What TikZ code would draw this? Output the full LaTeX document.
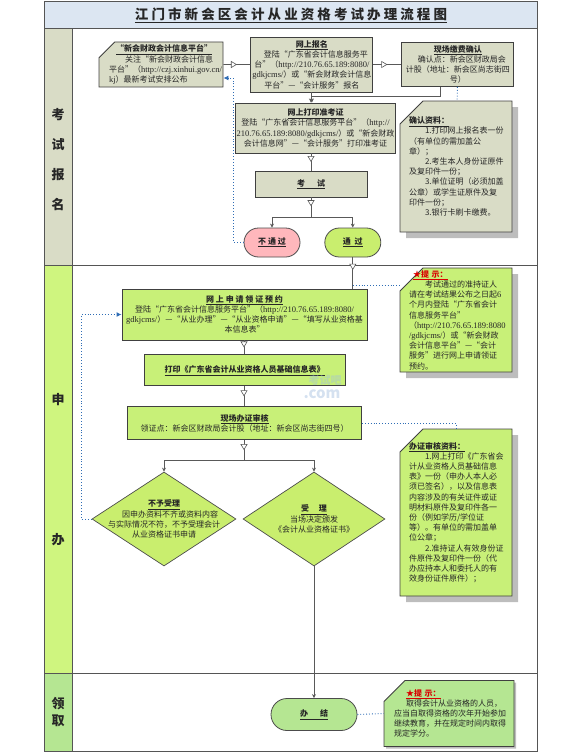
\documentclass[tikz,border=0pt]{standalone}
\usepackage{fontspec}
\setmainfont{Noto Sans CJK SC}
\newfontfamily\latinfont{Liberation Serif}
\usetikzlibrary{arrows.meta,positioning,shapes.geometric,shapes.misc,shadows,decorations.markings}
\definecolor{lanegrey}{HTML}{555555}
\definecolor{titleblue}{HTML}{DCE6F2}
\definecolor{khaki}{HTML}{D9DCC6}
\definecolor{applygreen}{HTML}{C8F078}
\definecolor{headgreen}{HTML}{CFF57F}
\definecolor{endgreen}{HTML}{B5E692}
\definecolor{failpink}{HTML}{FFB7BC}
\definecolor{passgreen}{HTML}{C9EE6E}
\definecolor{hintblue}{HTML}{2F6DB5}
\definecolor{shadowgrey}{HTML}{BDBDBD}
\newcommand{\headline}[1]{\textbf{\underline{#1}}}
\newcommand{\hintline}[1]{\textcolor{red!85!black}{\textbf{\underline{#1}}}}
\newcommand{\site}[1]{{\latinfont\fontsize{8.5}{10.2}\selectfont #1}}
\begin{document}
\begin{tikzpicture}[x=1pt, y=-1pt, every node/.style={font=\fontsize{8}{10.2}\selectfont, text=black!85},
  lane/.style={draw=lanegrey, line width=1pt, anchor=north west, inner sep=0pt},
  lanelabel/.style={font=\fontsize{13}{17}\selectfont\bfseries, align=center, inner sep=0pt},
  box/.style={draw=black!75, line width=.9pt, align=center, inner sep=1pt},
  greybox/.style={box, fill=khaki},
  greenbox/.style={box, fill=applygreen},
  endbox/.style={rounded rectangle, draw=black!70, line width=.8pt, align=center, inner sep=1pt},
  memo/.style={chamfered rectangle, chamfered rectangle corners=north west, chamfered rectangle xsep=12pt, chamfered rectangle ysep=11pt, draw=black!75, line width=.9pt, align=left, inner xsep=-14pt, inner ysep=-13pt, text width=94pt},
  shadowed/.style={drop shadow={shadow xshift=6pt, shadow yshift=-6pt, fill=shadowgrey, opacity=1}},
  choice/.style={diamond, draw=black!70, line width=.7pt, fill=passgreen, inner sep=0pt, minimum width=144pt, minimum height=94pt},
  plain/.style={align=center, inner sep=0pt},
  wire/.style={draw=black!65, line width=.9pt},
  flow/.style={wire, postaction={decorate}, decoration={markings, mark=at position #1 with {\arrow[black!65, line width=.6pt]{Triangle[open, length=6pt, width=7pt, fill=white]}}}},
  flow/.default=.5,
  drop/.style={wire, -{Stealth[length=4pt, width=4pt]}},
  hint/.style={hintblue, dotted, line width=.9pt},
  hintarrow/.style={hint, -{Latex[length=5pt, width=5pt, fill=hintblue]}}]
\useasboundingbox (0,0) rectangle (580,752);

% lanes
\node[lane, fill=titleblue, minimum width=493pt, minimum height=27pt] (title) at (44,1) {};
\node[lane, minimum width=493pt, minimum height=237pt] (signrow) at (44,28) {};
\node[lane, minimum width=493pt, minimum height=408pt] (applyrow) at (44,265) {};
\node[lane, minimum width=493pt, minimum height=78pt] (endrow) at (44,673) {};
\node[lane, fill=khaki, minimum width=28pt, minimum height=237pt] (signhead) at (44,28) {};
\node[lane, fill=headgreen, minimum width=28pt, minimum height=408pt] (applyhead) at (44,265) {};
\node[lane, fill=endgreen, minimum width=28pt, minimum height=78pt] (endhead) at (44,673) {};
\node[plain, font=\fontsize{13.5}{16}\selectfont\bfseries] (titletext) at (title) {\underline{江\ 门\ 市\ 新\ 会\ 区\ 会\ 计\ 从\ 业\ 资\ 格\ 考\ 试\ 办\ 理\ 流\ 程\ 图}};
\node[lanelabel] (signlabel) at (58,160) {考\\[13pt]试\\[13pt]报\\[13pt]名};
\node[lanelabel] (applylabel) at (58,470) {申\\[123pt]办};
\node[lanelabel] (endlabel) at (58,712) {领\\取};

% sign up
\node[memo, fill=khaki, text width=104pt, chamfered rectangle xsep=9pt, chamfered rectangle ysep=9pt, minimum width=124pt, minimum height=45pt] (bulletin) at (161,64.5) {\hspace*{7pt}\headline{“新会财政会计信息平台”}\\\hspace*{2em}关注“新会财政会计信息\\平台”（\site{http://czj.xinhui.gov.cn/}\\\site{kj}）最新考试安排公布};
\node[greybox, minimum width=122pt, minimum height=55pt, right=27pt of bulletin] (signup) {\headline{网上报名}\\\hspace*{1em}登陆“广东省会计信息服务平\\台”（\site{http://210.76.65.189:8080/}\\\site{gdkjcms/}）或“新会财政会计信息\\平台”---“会计服务”报名};
\node[greybox, minimum width=112pt, minimum height=44pt, right=28pt of signup] (confirm) {\headline{现场缴费确认}\\\hspace*{1em}确认点：新会区财政局会\\计股（地址：新会区尚志街四\\号）};
\node[memo, fill=khaki, shadowed, minimum width=112pt, minimum height=131pt] (docs) at (456,166.5) {\headline{确认资料：}\\\hspace*{2em}1.打印网上报名表一份\\（有单位的需加盖公\\章）；\\\hspace*{2em}2.考生本人身份证原件\\及复印件一份；\\\hspace*{2em}3.单位证明（必须加盖\\公章）或学生证原件及复\\印件一份；\\\hspace*{2em}3.银行卡刷卡缴费。};
\node[greybox, minimum width=153pt, minimum height=50pt] (ticket) at (315.5,128) {\headline{网上打印准考证}\\登陆“广东省会计信息服务平台”（\site{http://}\\\site{210.76.65.189:8080/gdkjcms/}）或“新会财政\\会计信息网”---“会计服务”打印准考证};
\node[greybox, minimum width=112pt, minimum height=26pt] (exam) at (311,184) {\headline{考\hspace{1.5em}试}};
\node[endbox, fill=failpink, minimum width=58pt, minimum height=29pt] (fail) at (272,242.5) {\headline{不\ 通\ 过}};
\node[endbox, fill=passgreen, minimum width=58pt, minimum height=29pt, right=24pt of fail] (pass) {\headline{通\ \ 过}};
\coordinate (examsplit) at (311,217);
\coordinate (ticketturn) at (311,96);

% apply
\node[greenbox, minimum width=245pt, minimum height=51pt] (booking) at (244.5,314.5) {\headline{网\ 上\ 申\ 请\ 领\ 证\ 预\ 约}\\登陆“广东省会计信息服务平台”（\site{http://210.76.65.189:8080/}\\\site{gdkjcms/}）---“从业办理”---“从业资格申请”---“填写从业资格基\\本信息表”};
\node[greenbox, minimum width=201pt, minimum height=31pt, below=14pt of booking] (printform) {\headline{打印《广东省会计从业资格人员基础信息表》}};
\node[greenbox, minimum width=234pt, minimum height=33pt, below=20pt of printform] (review) {\headline{现场办证审核}\\领证点：新会区财政局会计股（地址：新会区尚志街四号）};
\node[memo, fill=applygreen, shadowed, minimum width=112pt, minimum height=104pt] (bookhint) at (456,320) {\hspace*{4pt}\hintline{★提\ 示：}\\\hspace*{2em}考试通过的准持证人\\请在考试结果公布之日起\site{6}\\个月内登陆“广东省会计\\信息服务平台”\\（\site{http://210.76.65.189:8080}\\\site{/gdkjcms/}）或“新会财政\\会计信息平台”---“会计\\服务”进行网上申请领证\\预约。};
\node[memo, fill=applygreen, shadowed, minimum width=112pt, minimum height=167pt] (reviewdocs) at (456,512.5) {\headline{办证审核资料：}\\\hspace*{2em}1.网上打印《广东省会\\计从业资格人员基础信息\\表》一份（申办人本人必\\须已签名），以及信息表\\内容涉及的有关证件或证\\明材料原件及复印件各一\\份（例如学历/学位证\\等）。有单位的需加盖单\\位公章；\\\hspace*{2em}2.准持证人有效身份证\\件原件及复印件一份（代\\办应持本人和委托人的有\\效身份证件原件）；};
\node[choice] (reject) at (164,519) {};
\node[choice, minimum width=142pt] (accept) at (314,519) {};
\node[plain] (rejecttext) at (reject) {\headline{不予受理}\\\hspace*{1.5em}因申办资料不齐或资料内容\\与实际情况不符，不予受理会计\\从业资格证书申请};
\node[plain] (accepttext) at (accept) {\headline{受\hspace{1.2em}理}\\当场决定颁发\\《会计从业资格证书》};
\coordinate (reviewsplit) at (244,460);

% finish
\node[endbox, fill=endgreen, minimum width=88pt, minimum height=32pt] (finish) at (314,714.5) {\headline{办\hspace{1.5em}结}};
\node[memo, fill=endgreen, text width=110pt, chamfered rectangle xsep=11pt, chamfered rectangle ysep=10pt, minimum width=130pt, minimum height=66pt, drop shadow={shadow xshift=2pt, shadow yshift=-2pt, fill=shadowgrey, opacity=1}] (finishhint) at (449,713.5) {\hspace*{1.5em}\hintline{★提\ 示：}\\\hspace*{1.5em}取得会计从业资格的人员，\\应当自取得资格的次年开始参加\\继续教育，并在规定时间内取得\\规定学分。};

% connectors
\draw[flow] (bulletin) -- (signup);
\draw[flow] (signup) -- (confirm);
\draw[drop] (signup.south) -- (signup.south |- ticket.north);
\draw[wire, -{Stealth[length=4pt, width=4pt]}] ([xshift=-17pt]confirm.south) |- (ticketturn) -- (ticketturn |- ticket.north);
\draw[hint] (confirm) -- (docs);
\draw[flow] (exam.north |- ticket.south) -- (exam.north);
\draw[flow=.45] (exam.south) -- (examsplit);
\draw[drop] (examsplit) -| (fail.north);
\draw[drop] (examsplit) -| (pass.north);
\draw[hintarrow] (fail.west) -- ++(-10,0) |- (bulletin.east |- 0,78);
\draw[flow=.4] (pass.south) -- (pass.south |- booking.north);
\draw[hint] (pass.south |- 0,285) -- (bookhint.west |- 0,285);
\draw[flow] (booking.south -| 244,0) -- (printform.north -| 244,0);
\draw[flow] (printform.south -| 244,0) -- (review.north -| 244,0);
\draw[flow=.5] (review.south -| 244,0) -- (reviewsplit);
\draw[drop] (reviewsplit) -| (reject.north);
\draw[drop] (reviewsplit) -| (accept.north);
\draw[hint] (review.east) -| (reviewdocs.north);
\draw[hintarrow] (reject.west) -- ++(-10,0) |- (booking.west);
\draw[drop] (accept.south) -- (finish.north);
\draw[hint] (finish.east) -- (finishhint.west);

% watermark
\node[plain, opacity=.45, text=hintblue!45, font=\fontsize{11}{12}\selectfont\bfseries] (markname) at (325,380) {考试吧};
\node[plain, opacity=.45, text=hintblue!45, font=\fontsize{15}{16}\selectfont\bfseries] (markcom) at (322,394) {.com};
\end{tikzpicture}
\end{document}
